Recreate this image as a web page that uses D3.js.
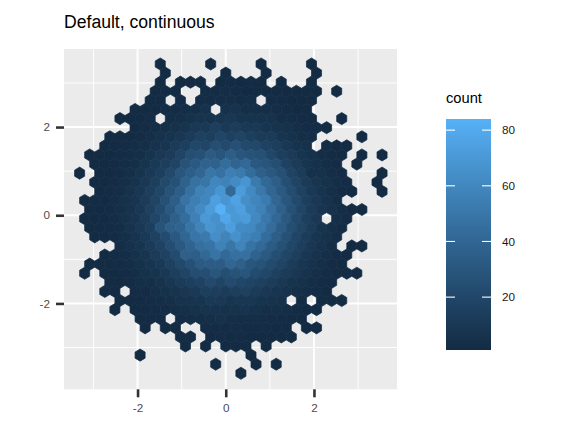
<!DOCTYPE html>
<html><head><meta charset="utf-8">
<script src="https://cdn.jsdelivr.net/npm/d3@7"></script>
<style>body{margin:0;background:#fff}svg{display:block}text{font-family:"Liberation Sans",Arial,sans-serif}</style>
</head><body>
<svg id="chart" width="576" height="432"></svg>
<script>
const title = "Default, continuous";
const xTicks = [-2, 0, 2];
const yTicks = [-2, 0, 2];
const xMinor = [-3, -1, 1, 3];
const yMinor = [-3, -1, 1, 3];
const legendTitle = "count";
const legendTicks = [20, 40, 60, 80];
const countRange = [1, 84];
const lowColour = "#132B43", highColour = "#56B1F7";
// hexbin lattice in data units: centre of column 0 on even rows, row 0 is the top row
const gridX0 = -3.314, gridY0 = 3.430, binW = 0.2286, rowH = 0.2063;
// counts per hex cell, rows top -> bottom, columns left -> right (odd rows shifted half a bin right)
const counts = [
[0,0,0,0,0,0,0,0,1,0,0,0,0,1,0,0,0,0,1,0,0,0,0,1,0,0,0,0,0,0,0],
[0,0,0,0,0,0,0,0,1,0,0,0,0,0,1,0,0,0,1,0,0,0,0,1,0,0,0,0,0,0,0],
[0,0,0,0,0,0,0,0,1,0,1,1,1,0,1,2,1,2,1,0,1,0,0,1,0,0,0,0,0,0,0],
[0,0,0,0,0,0,0,1,1,1,0,0,2,2,3,2,1,1,1,1,1,1,1,1,0,1,0,0,0,0,0],
[0,0,0,0,0,0,0,1,1,0,2,0,2,2,3,4,2,3,0,2,2,1,1,1,0,0,0,0,0,0,0],
[0,0,0,0,0,1,1,1,2,2,3,3,5,0,5,6,4,4,4,3,2,1,1,0,0,0,0,0,0,0,0],
[0,0,0,0,1,1,1,2,0,3,4,5,7,6,8,9,7,7,6,6,3,3,2,1,0,0,1,0,0,0,0],
[0,0,0,0,0,1,2,3,4,5,7,10,11,14,11,13,11,11,8,6,5,4,2,2,1,0,0,0,0,0,0],
[0,0,0,1,1,1,2,4,5,7,9,12,16,15,19,16,18,15,12,12,8,6,4,3,0,0,0,0,1,0,0],
[0,0,1,1,2,3,4,6,8,12,15,20,19,25,22,26,22,21,17,14,10,7,5,0,2,1,1,0,0,0,0],
[0,1,1,1,2,3,4,7,10,12,18,25,26,33,29,35,30,28,26,20,15,12,8,5,3,2,1,0,1,0,1],
[0,1,1,2,3,4,7,11,15,18,28,32,38,37,44,39,42,31,29,25,17,12,8,5,3,2,0,1,0,0,0],
[1,0,1,1,2,4,7,11,14,21,30,35,40,50,47,55,52,44,36,31,26,18,13,5,5,3,2,0,0,0,1],
[0,1,1,2,4,6,10,15,22,27,37,47,50,60,57,62,68,52,41,35,25,18,12,8,5,3,2,0,0,1,0],
[0,0,1,2,3,6,9,14,20,28,35,47,57,60,68,42,72,61,51,40,32,24,17,11,7,4,2,1,0,0,1],
[1,1,1,3,5,8,12,18,26,35,48,55,60,74,68,76,64,59,53,40,30,22,15,10,6,3,0,0,0,0,0],
[0,1,1,2,4,6,10,16,23,32,42,55,62,72,84,70,74,62,57,46,36,27,19,12,8,5,3,1,1,0,0],
[1,1,1,3,5,8,13,19,27,36,44,56,70,66,78,70,72,61,51,41,31,22,15,10,0,4,2,0,0,0,0],
[0,1,1,2,3,6,10,15,28,36,39,49,58,68,64,73,62,61,53,44,34,25,18,12,7,4,2,0,0,0,0],
[0,1,1,2,4,7,11,16,23,31,40,49,52,64,58,66,59,55,44,35,27,19,13,8,5,3,0,0,0,0,0],
[0,0,0,0,3,5,8,12,17,24,31,39,46,48,57,50,58,48,42,34,27,20,14,9,6,3,0,1,1,0,0],
[0,0,1,2,3,5,8,12,17,23,36,35,41,48,42,46,46,38,32,25,19,14,9,6,4,2,1,0,0,0,0],
[0,1,1,1,2,3,5,8,11,16,21,26,33,34,34,40,36,30,28,23,18,13,9,6,4,2,1,0,0,0,0],
[1,0,1,1,2,3,5,7,10,14,18,24,25,30,25,28,29,23,20,16,12,9,6,4,2,1,1,1,0,0,0],
[0,0,0,1,1,2,3,4,6,9,12,15,17,22,18,23,20,18,16,13,10,7,5,3,2,1,0,0,0,0,0],
[0,0,1,1,0,2,2,4,5,7,9,11,15,14,13,14,16,12,10,8,6,4,3,2,1,0,0,0,0,0,0],
[0,0,0,0,1,1,1,2,3,4,6,7,8,11,10,8,9,9,7,6,5,0,2,0,1,1,1,0,0,0,0],
[0,0,0,1,0,1,1,2,2,3,4,5,7,6,5,6,7,5,4,4,3,2,1,1,0,0,0,0,0,0,0],
[0,0,0,0,0,0,1,1,1,0,2,3,3,4,5,4,3,3,3,2,2,1,1,0,0,0,0,0,0,0,0],
[0,0,0,0,0,0,1,0,1,1,0,0,2,2,2,3,2,2,2,1,1,0,1,1,0,0,0,0,0,0,0],
[0,0,0,0,0,0,0,0,0,0,1,1,0,1,2,1,2,1,1,1,1,1,0,0,0,0,0,0,0,0,0],
[0,0,0,0,0,0,0,0,0,0,1,0,1,0,1,1,1,0,1,0,0,0,0,0,0,0,0,0,0,0,0],
[0,0,0,0,0,0,1,0,0,0,0,0,0,0,0,0,0,1,0,0,0,0,0,0,0,0,0,0,0,0,0],
[0,0,0,0,0,0,0,0,0,0,0,0,0,1,0,0,0,1,0,1,0,0,0,0,0,0,0,0,0,0,0],
[0,0,0,0,0,0,0,0,0,0,0,0,0,0,0,0,1,0,0,0,0,0,0,0,0,0,0,0,0,0,0]
];

const svg = d3.select("#chart");
const panel = {left: 64, right: 397, top: 49, bottom: 389.3};
const x = d3.scaleLinear().domain([-3.668, 3.883]).range([panel.left, panel.right]);
const y = d3.scaleLinear().domain([-3.947, 3.77]).range([panel.bottom, panel.top]);
const fill = d3.scaleLinear().domain(countRange).range([lowColour, highColour]).interpolate(d3.interpolateLab);

svg.append("rect").attr("width", 576).attr("height", 432).attr("fill", "#fff");

// title
svg.append("text").attr("x", 64).attr("y", 28).attr("font-size", 17.6).attr("fill", "#000").text(title);

// panel background + grid
svg.append("rect").attr("x", panel.left).attr("y", panel.top)
  .attr("width", panel.right - panel.left).attr("height", panel.bottom - panel.top).attr("fill", "#EBEBEB");
const grid = svg.append("g");
grid.selectAll("line.xm").data(xMinor).join("line").attr("class","xm")
  .attr("x1", d => x(d)).attr("x2", d => x(d)).attr("y1", panel.top).attr("y2", panel.bottom)
  .attr("stroke", "#fff").attr("stroke-width", 0.95);
grid.selectAll("line.ym").data(yMinor).join("line").attr("class","ym")
  .attr("y1", d => y(d)).attr("y2", d => y(d)).attr("x1", panel.left).attr("x2", panel.right)
  .attr("stroke", "#fff").attr("stroke-width", 0.95);
grid.selectAll("line.xM").data(xTicks).join("line").attr("class","xM")
  .attr("x1", d => x(d)).attr("x2", d => x(d)).attr("y1", panel.top).attr("y2", panel.bottom)
  .attr("stroke", "#fff").attr("stroke-width", 1.9);
grid.selectAll("line.yM").data(yTicks).join("line").attr("class","yM")
  .attr("y1", d => y(d)).attr("y2", d => y(d)).attr("x1", panel.left).attr("x2", panel.right)
  .attr("stroke", "#fff").attr("stroke-width", 1.9);

// hexes
const cells = [];
counts.forEach((row, r) => row.forEach((n, c) => {
  if (n > 0) cells.push({cx: gridX0 + (c + (r % 2 ? 0.5 : 0)) * binW, cy: gridY0 - r * rowH, n});
}));
const hw = binW / 2;
function hexPath(d) {
  const pts = [[d.cx, d.cy + 2*rowH/3], [d.cx + hw, d.cy + rowH/3], [d.cx + hw, d.cy - rowH/3],
               [d.cx, d.cy - 2*rowH/3], [d.cx - hw, d.cy - rowH/3], [d.cx - hw, d.cy + rowH/3]];
  return "M" + pts.map(p => x(p[0]).toFixed(2) + "," + y(p[1]).toFixed(2)).join("L") + "Z";
}
svg.append("defs").append("clipPath").attr("id", "pclip").append("rect")
  .attr("x", panel.left).attr("y", panel.top).attr("width", panel.right - panel.left).attr("height", panel.bottom - panel.top);
svg.append("g").attr("clip-path", "url(#pclip)").selectAll("path").data(cells).join("path")
  .attr("d", hexPath).attr("fill", d => fill(d.n)).attr("stroke", d => fill(d.n)).attr("stroke-width", 0.7)
  .attr("stroke-linejoin", "miter");

// axes
const axL = svg.append("g").attr("transform", `translate(${panel.left},0)`)
  .call(d3.axisLeft(y).tickValues(yTicks).tickSize(8).tickPadding(6).tickFormat(d3.format("d")));
const axB = svg.append("g").attr("transform", `translate(0,${panel.bottom})`)
  .call(d3.axisBottom(x).tickValues(xTicks).tickSize(8).tickPadding(6).tickFormat(d3.format("d")));
[axL, axB].forEach(a => {
  a.select(".domain").remove();
  a.selectAll(".tick line").attr("stroke", "#333333").attr("stroke-width", 2.6);
  a.selectAll(".tick text").attr("fill", "#4D4D4D").attr("font-size", 11.7)
    .attr("font-family", "Liberation Sans, Arial, sans-serif").text(d => d < 0 ? "-" + Math.abs(d) : d);
});

// legend
const bar = {x: 446, y0: 119, y1: 350, w: 45};
const ly = d3.scaleLinear().domain(countRange).range([bar.y1, bar.y0]);
svg.append("text").attr("x", 446).attr("y", 103).attr("font-size", 14.7).attr("fill", "#000").text(legendTitle);
const grad = svg.select("defs").append("linearGradient").attr("id", "lg")
  .attr("x1", 0).attr("y1", 1).attr("x2", 0).attr("y2", 0);
d3.range(0, 1.0001, 0.05).forEach(t => {
  grad.append("stop").attr("offset", t).attr("stop-color", fill(countRange[0] + t * (countRange[1] - countRange[0])));
});
svg.append("rect").attr("x", bar.x).attr("y", bar.y0).attr("width", bar.w).attr("height", bar.y1 - bar.y0)
  .attr("fill", "url(#lg)");
const lt = svg.append("g");
lt.selectAll("line.l").data(legendTicks).join("line").attr("class", "l")
  .attr("x1", bar.x).attr("x2", bar.x + bar.w / 5).attr("y1", d => ly(d)).attr("y2", d => ly(d))
  .attr("stroke", "#fff").attr("stroke-width", 1.1);
lt.selectAll("line.r").data(legendTicks).join("line").attr("class", "r")
  .attr("x1", bar.x + bar.w * 4 / 5).attr("x2", bar.x + bar.w).attr("y1", d => ly(d)).attr("y2", d => ly(d))
  .attr("stroke", "#fff").attr("stroke-width", 1.1);
lt.selectAll("text").data(legendTicks).join("text")
  .attr("x", bar.x + bar.w + 11).attr("y", d => ly(d)).attr("dy", "0.35em")
  .attr("font-size", 11.7).attr("fill", "#1A1A1A").text(d => d);
</script>
</body></html>
